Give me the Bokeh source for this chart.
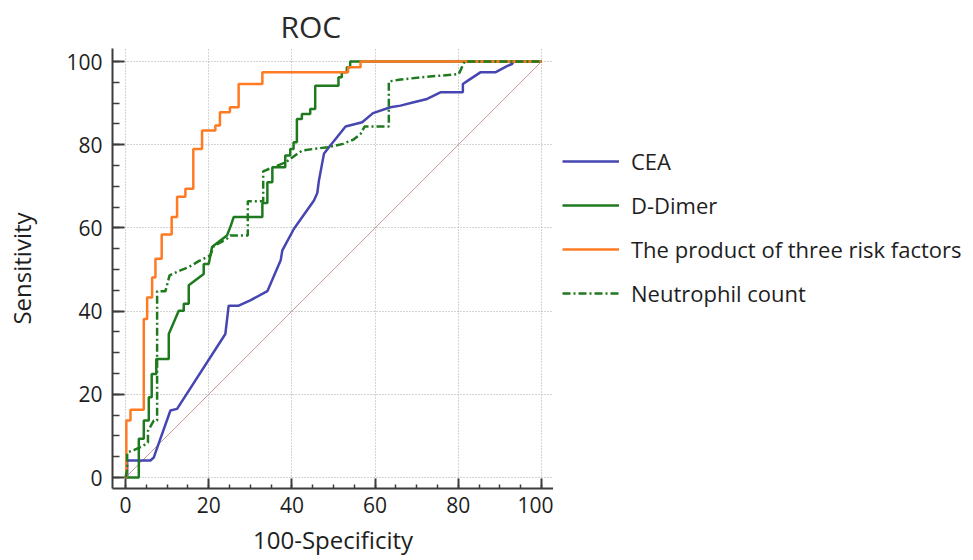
from bokeh.plotting import figure
from bokeh.layouts import row
from bokeh.models import Range1d, SingleIntervalTicker, Legend, LegendItem
from bokeh.embed import file_html
from bokeh.resources import INLINE

# ---- data (100-Specificity, Sensitivity) ----
cea_x = [0, 0.4, 0.4, 6.0, 6.8, 7.2, 10.8, 12.4, 24.0, 24.8, 27.2, 30.0, 34.1, 37.3, 37.7,
         40.5, 45.3, 46.1, 46.5, 47.7, 48.9, 52.9, 56.9, 59.5, 63.7, 66.1, 69.3, 72.5, 75.7,
         81.1, 81.1, 82.3, 85.3, 88.9, 91.7, 92.9, 93.3, 100]
cea_y = [0, 0, 4.1, 4.1, 4.8, 6.0, 16.1, 16.5, 34.5, 41.3, 41.3, 42.6, 44.8, 52.2, 54.6,
         59.8, 66.6, 68.4, 71.4, 77.8, 79.4, 84.4, 85.4, 87.6, 89.0, 89.4, 90.2, 91.0, 92.6,
         92.6, 94.6, 95.4, 97.4, 97.4, 98.9, 99.4, 100, 100]

ddimer_x = [0, 3.2, 3.2, 4.4, 4.4, 5.6, 5.6, 6.3, 6.3, 7.4, 7.4, 10.4, 10.4, 12.8, 14.0, 14.0,
            15.2, 15.2, 18.8, 18.8, 20.0, 20.8, 22.8, 24.4, 25.2, 26.0, 32.9, 32.9, 34.1, 34.1,
            35.3, 35.3, 38.4, 38.4, 39.6, 39.6, 40.4, 40.4, 41.2, 41.2, 42.4, 42.4, 44.4, 44.4,
            45.6, 45.6, 51.2, 51.2, 52.0, 52.0, 53.2, 53.2, 54.0, 54.0, 100]
ddimer_y = [0, 0, 9.3, 9.3, 13.7, 13.7, 19.3, 19.3, 24.9, 24.9, 28.5, 28.5, 34.5, 40.1, 40.1, 41.8,
            41.8, 46.2, 48.9, 51.3, 51.3, 55.4, 57.0, 58.2, 60.2, 62.6, 62.6, 66.0, 66.0, 71.0,
            71.0, 74.6, 74.6, 77.4, 77.4, 79.0, 79.0, 80.6, 80.6, 86.2, 86.2, 87.4, 87.4, 88.6,
            88.6, 94.2, 94.2, 96.2, 96.2, 97.4, 97.4, 98.6, 98.6, 100, 100]

product_x = [0, 0.2, 0.2, 1.2, 1.2, 4.4, 4.4, 5.2, 5.2, 6.4, 6.4, 7.2, 7.2, 8.7, 8.7, 11.1, 11.1,
             12.4, 12.4, 14.4, 14.4, 16.3, 16.3, 18.4, 18.4, 21.6, 21.6, 22.7, 22.7, 25.1, 25.1,
             27.2, 27.2, 32.9, 32.9, 53.5, 53.5, 56.5, 56.5, 100]
product_y = [0, 0, 13.7, 13.7, 16.3, 16.3, 38.1, 38.1, 43.3, 43.3, 48.1, 48.1, 52.6, 52.6, 58.4,
             58.4, 62.6, 62.6, 67.5, 67.5, 69.4, 69.4, 79.0, 79.0, 83.4, 83.4, 84.6, 84.6, 87.8,
             87.8, 89.0, 89.0, 94.6, 94.6, 97.4, 97.4, 98.6, 98.6, 100, 100]

neut_x = [0, 0.4, 0.4, 2.0, 4.2, 5.4, 5.4, 6.8, 7.6, 7.6, 9.6, 10.6, 13.2, 15.2, 17.6, 20.4,
          21.2, 24.4, 25.2, 29.4, 29.4, 33.1, 33.1, 35.0, 38.6, 41.0, 42.5, 45.3, 48.6, 52.3,
          54.9, 56.5, 57.5, 63.3, 63.3, 65.7, 70.9, 75.7, 80.1, 80.5, 81.3, 81.6, 100]
neut_y = [0, 2.0, 6.0, 6.6, 7.6, 8.4, 11.2, 13.7, 13.7, 44.8, 44.8, 48.6, 49.8, 50.6, 52.0, 53.4,
          55.6, 57.4, 58.2, 58.2, 66.4, 66.4, 73.6, 74.4, 75.8, 77.6, 78.6, 79.0, 79.4, 80.2,
          81.3, 82.6, 84.4, 84.4, 95.2, 95.6, 96.2, 96.6, 97.0, 97.8, 99.6, 100, 100]

diag_x = [0, 100]
diag_y = [0, 100]

labels = ["CEA", "D-Dimer", "The product of three risk factors", "Neutrophil count"]

FONT = "Open Sans"
AX = "#3c3c3c"
TXT = "#1e1e1e"
COLORS = ["#4646b2", "#1f7a1f", "#ff7a22", "#1f7a1f"]
DASHES = ["solid", "solid", "solid", "8 3 2 3"]

H = 560
W1 = 553
W2 = 416

p = figure(width=W1, height=H, output_backend="svg", toolbar_location=None,
           x_range=Range1d(-3.125, 102.885), y_range=Range1d(-2.64, 103.13),
           min_border_left=112, min_border_right=0, min_border_top=48,
           min_border_bottom=H - 488, title="ROC")
p.outline_line_color = None

p.title.text_font = FONT
p.title.text_font_size = "30px"
p.title.text_font_style = "normal"
p.title.text_color = "#2a2a2a"
p.title.align = "left"
p.title.offset = 168
p.title.standoff = 4

for ax in (p.xaxis[0], p.yaxis[0]):
    ax.ticker = SingleIntervalTicker(interval=20, num_minor_ticks=4)
    ax.axis_line_color = AX
    ax.axis_line_width = 2
    ax.major_tick_line_color = AX
    ax.major_tick_line_width = 2
    ax.minor_tick_line_color = AX
    ax.minor_tick_line_width = 1.5
    ax.major_tick_out = 0
    ax.minor_tick_out = 0
    ax.major_label_text_font = FONT
    ax.major_label_text_font_size = "21px"
    ax.major_label_text_color = TXT
    ax.axis_label_text_font = FONT
    ax.axis_label_text_font_size = "24px"
    ax.axis_label_text_font_style = "normal"
    ax.axis_label_text_color = TXT

p.xaxis.axis_label = "100-Specificity"
p.yaxis.axis_label = "Sensitivity"
p.xaxis.major_tick_in = 10
p.xaxis.minor_tick_in = 4
p.yaxis.major_tick_in = 12
p.yaxis.minor_tick_in = 7
p.xaxis.major_label_standoff = 8
p.yaxis.major_label_standoff = 10
p.xaxis.axis_label_standoff = 7
p.yaxis.axis_label_standoff = 25

p.grid.grid_line_color = "#a8a8a8"
p.grid.grid_line_dash = "1 2"
p.grid.grid_line_width = 1

p.line(diag_x, diag_y, line_color="#c99a94", line_width=1)
p.line(cea_x, cea_y, line_color=COLORS[0], line_width=2.5, line_dash=DASHES[0])
p.line(ddimer_x, ddimer_y, line_color=COLORS[1], line_width=2.5, line_dash=DASHES[1])
p.line(product_x, product_y, line_color=COLORS[2], line_width=2.5, line_dash=DASHES[2])
p.line(neut_x, neut_y, line_color=COLORS[3], line_width=2.5, line_dash=DASHES[3])

# legend panel to the right of the plot
q = figure(width=W2, height=H, output_backend="svg", toolbar_location=None,
           x_range=Range1d(0, 1), y_range=Range1d(0, 1), min_border=0,
           min_border_left=9)
q.axis.visible = False
q.grid.visible = False
q.outline_line_color = None
items = []
for lab, col, dash in zip(labels, COLORS, DASHES):
    r = q.line([-1.0], [-1.0], line_color=col, line_width=2.5, line_dash=dash)
    items.append(LegendItem(label=lab, renderers=[r]))

legend = Legend(items=items, location="top_left", orientation="vertical")
legend.title = " "
legend.title_text_font_size = "1px"
legend.title_standoff = 97
legend.glyph_width = 57
legend.glyph_height = 30
legend.label_height = 30
legend.label_standoff = 12
legend.spacing = 14
legend.padding = 0
legend.margin = 0
legend.border_line_color = None
legend.background_fill_alpha = 0
legend.label_text_font = FONT
legend.label_text_font_size = "22px"
legend.label_text_color = TXT
q.add_layout(legend)

layout = row(p, q, spacing=0)
open("out.html", "w").write(file_html(layout, INLINE))
